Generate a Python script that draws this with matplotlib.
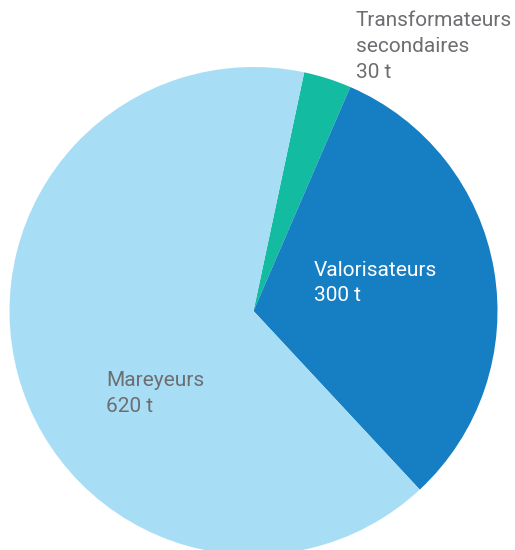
import matplotlib.pyplot as plt

# data
labels = ["Transformateurs\nsecondaires", "Valorisateurs", "Mareyeurs"]
tonnes = [30, 300, 620]
colors = ["#13BBA0", "#167EC3", "#A8DEF5"]
text_colors = ["#6D6E71", "#FFFFFF", "#6D6E71"]
# label anchor (pixels, left x / top line y)
label_pos = [(356, 21), (314, 270), (106, 381)]

W, H = 515, 550

fig = plt.figure(figsize=(W / 100, H / 100), dpi=100)
ax = fig.add_axes([0, 0, 1, 1])

ax.pie(tonnes, colors=colors, startangle=78, counterclock=False,
       center=(253.5, H - 311), radius=244,
       wedgeprops=dict(linewidth=0))

ax.set_xlim(0, W)
ax.set_ylim(0, H)
ax.set_aspect("equal")
ax.axis("off")

for lab, val, col, (px, py) in zip(labels, tonnes, text_colors, label_pos):
    lines = lab.split("\n") + [f"{val} t"]
    for i, line in enumerate(lines):
        ax.text(px, H - (py + i * 25.5), line, ha="left", va="center",
                fontsize=15, color=col, family=["Roboto", "DejaVu Sans"],
                fontweight="normal")

fig.savefig("out.png", dpi=100)
